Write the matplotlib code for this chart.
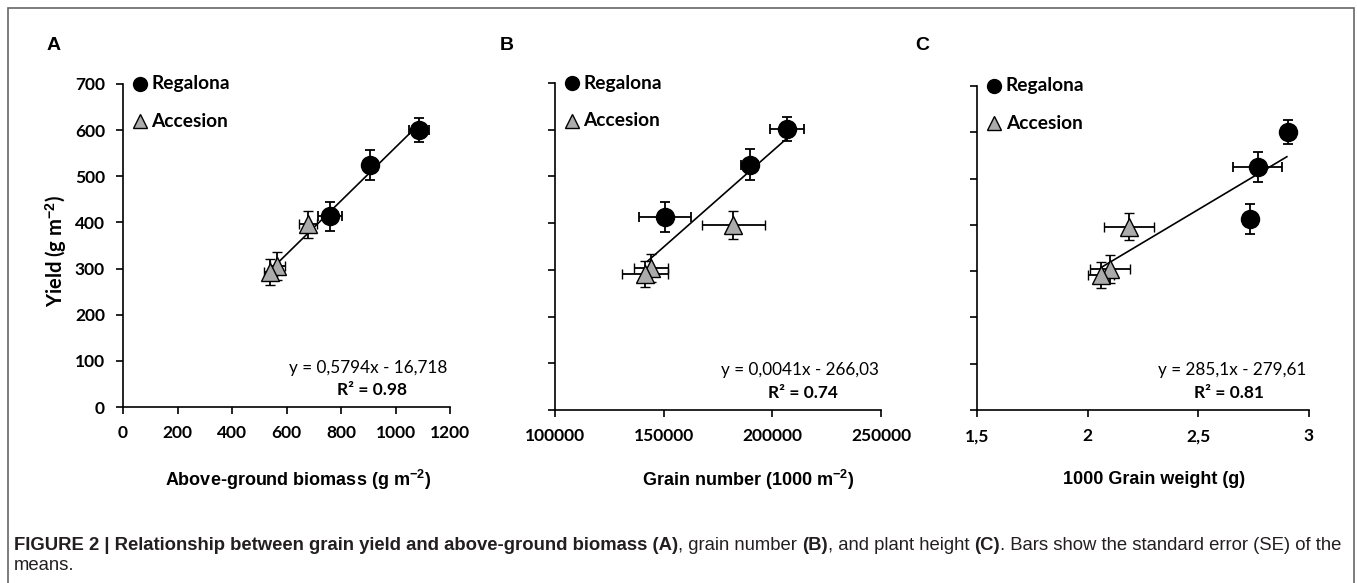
import matplotlib
matplotlib.use("Agg")
import matplotlib.pyplot as plt
from matplotlib.patches import Rectangle

plt.rcParams["mathtext.fontset"] = "custom"
plt.rcParams["mathtext.rm"] = "Liberation Sans"
plt.rcParams["mathtext.bf"] = "Liberation Sans:bold"

# yield (g m-2), shared by the three panels
yld_reg = [601, 525, 413]
yld_reg_err = [26, 33, 32]
yld_acc = [396, 305, 292]
yld_acc_err = [29, 30, 28]

# A: above-ground biomass (g m-2)
bio_reg = [1085, 908, 760]
bio_reg_err = [37, 25, 45]
bio_acc = [680, 566, 541]
bio_acc_err = [33, 27, 25]

# B: grain number (1000 m-2)
gn_reg = [206700, 189500, 150700]
gn_reg_err = [8000, 3800, 12100]
gn_acc = [182100, 144200, 141500]
gn_acc_err = [14400, 8000, 10700]

# C: 1000 grain weight (g)
gw_reg = [2.904, 2.768, 2.734]
gw_reg_err = [0.008, 0.112, 0.008]
gw_acc = [2.188, 2.102, 2.060]
gw_acc_err = [0.113, 0.09, 0.06]

# trend lines (slope, intercept, x range)
fits = [(0.5794, -16.718, 540, 1085),
        (0.0041, -266.03, 142500, 206700),
        (285.1, -279.61, 2.06, 2.9)]
eq_txt = ["y = 0,5794x - 16,718", "y = 0,0041x - 266,03", "y = 285,1x - 279,61"]
r2_txt = ["R\u00b2 = 0.98", "R\u00b2 = 0.74", "R\u00b2 = 0.81"]

xlims = [(0, 1200), (100000, 250000), (1.5, 3)]
xticks = [[0, 200, 400, 600, 800, 1000, 1200],
          [100000, 150000, 200000, 250000],
          [1.5, 2, 2.5, 3]]
xticklabels = [["0", "200", "400", "600", "800", "1000", "1200"],
               ["100000", "150000", "200000", "250000"],
               ["1,5", "2", "2,5", "3"]]
yticks = [0, 100, 200, 300, 400, 500, 600, 700]
xlabels = [r"Above-ground biomass (g m$^{\mathbf{-2}}$)",
           r"Grain number (1000 m$^{\mathbf{-2}}$)",
           "1000 Grain weight (g)"]
letters = ["A", "B", "C"]

W, H = 1357, 583
fig = plt.figure(figsize=(W / 100, H / 100), dpi=100)

def fx(px):
    return px / W

def fy(py):
    return 1 - py / H

# axes boxes in pixels: left, top, right, bottom
boxes = [(123, 84, 450, 407), (555, 83, 881, 410), (977, 86, 1309, 410)]
lab_x = [298, 748, 1154]
let_x = [54, 507, 922]

calib = ["Lato", "DejaVu Sans"]
helv = ["Liberation Sans", "DejaVu Sans"]
grey = "#ababab"

xs_reg = [bio_reg, gn_reg, gw_reg]
xe_reg = [bio_reg_err, gn_reg_err, gw_reg_err]
xs_acc = [bio_acc, gn_acc, gw_acc]
xe_acc = [bio_acc_err, gn_acc_err, gw_acc_err]

for i in range(3):
    l, t, r, b = boxes[i]
    ax = fig.add_axes([fx(l), fy(b), fx(r - l), (b - t) / H])
    ax.set_xlim(*xlims[i])
    ax.set_ylim(0, 700)
    for s in ["top", "right"]:
        ax.spines[s].set_visible(False)
    for s in ["left", "bottom"]:
        ax.spines[s].set_linewidth(1.2)
    ax.set_xticks(xticks[i])
    ax.set_xticklabels(xticklabels[i], fontfamily=calib, fontweight="bold", fontsize=12.5)
    ax.set_yticks(yticks)
    if i == 0:
        ax.set_yticklabels([str(v) for v in yticks], fontfamily=calib, fontweight="bold", fontsize=12.5)
    else:
        ax.set_yticklabels([])
    ax.tick_params(direction="out", length=5, width=1.2, pad=8)

    a, c, x0, x1 = fits[i]
    ax.plot([x0, x1], [a * x0 + c, a * x1 + c], color="black", lw=1.2, zorder=2)

    ax.errorbar(xs_acc[i], yld_acc, xerr=xe_acc[i], yerr=yld_acc_err, fmt="^",
                ms=13, mfc=grey, mec="black", mew=1.0, ecolor="black",
                elinewidth=1.3, capsize=3.5, capthick=1.3, zorder=3)
    ax.errorbar(xs_reg[i], yld_reg, xerr=xe_reg[i], yerr=yld_reg_err, fmt="o",
                ms=13, mfc="black", mec="black", ecolor="black",
                elinewidth=1.3, capsize=3.5, capthick=1.3, zorder=4)

    # legend
    ax.plot([0.052], [1.0], "o", ms=10, color="black", transform=ax.transAxes, clip_on=False)
    ax.plot([0.052], [0.885], "^", ms=10, mfc=grey, mec="black", mew=1.0,
            transform=ax.transAxes, clip_on=False)
    ax.text(0.087, 1.0, "Regalona", transform=ax.transAxes, va="center", ha="left",
            fontfamily=calib, fontweight="bold", fontsize=13.8)
    ax.text(0.087, 0.885, "Accesion", transform=ax.transAxes, va="center", ha="left",
            fontfamily=calib, fontweight="bold", fontsize=13.8)

    ax.text(0.993, 0.122, eq_txt[i], transform=ax.transAxes, va="center", ha="right",
            fontfamily=calib, fontsize=12.3)
    ax.text(0.76, 0.053, r2_txt[i], transform=ax.transAxes, va="center", ha="center",
            fontfamily=calib, fontweight="bold", fontsize=12.5)

    fig.text(fx(lab_x[i]), fy(480), xlabels[i], ha="center", va="center",
             fontfamily=helv, fontweight="bold", fontsize=13)
    fig.text(fx(let_x[i]), fy(45), letters[i], ha="center", va="center",
             fontfamily=helv, fontweight="bold", fontsize=14)

fig.text(fx(56), fy(251), r"Yield (g m$^{\mathbf{-2}}$)", rotation=90, ha="center", va="center",
         fontfamily=calib, fontweight="bold", fontsize=14.5)

# outer frame
fig.add_artist(Rectangle((fx(8), fy(600)), fx(1354 - 8), (600 - 8) / H,
                         transform=fig.transFigure, fill=False, ec="#666666", lw=1.2))

# caption with mixed bold/regular pieces
pieces = [("FIGURE 2 | Relationship between grain yield and above-ground biomass (A)", "bold"),
          (", grain number ", "normal"),
          ("(B)", "bold"),
          (", and plant height ", "normal"),
          ("(C)", "bold"),
          (". Bars show the standard error (SE) of the", "normal")]
cap_x0, cap_x1 = 14, 1342

def draw_caption(size):
    arts = []
    x = cap_x0
    rend = fig.canvas.get_renderer()
    for txt, wt in pieces:
        t = fig.text(fx(x), fy(550), txt, ha="left", va="baseline", fontfamily=helv,
                     fontweight=wt, fontsize=size, color="#231f20")
        bb = t.get_window_extent(renderer=rend)
        x += bb.width
        arts.append(t)
    return arts, x

arts, xend = draw_caption(12)
scale = (cap_x1 - cap_x0) / (xend - cap_x0)
for t in arts:
    t.remove()
size = 12 * scale
draw_caption(size)
fig.text(fx(cap_x0), fy(570), "means.", ha="left", va="baseline", fontfamily=helv,
         fontsize=size, color="#231f20")

fig.savefig("out.png", dpi=100)
